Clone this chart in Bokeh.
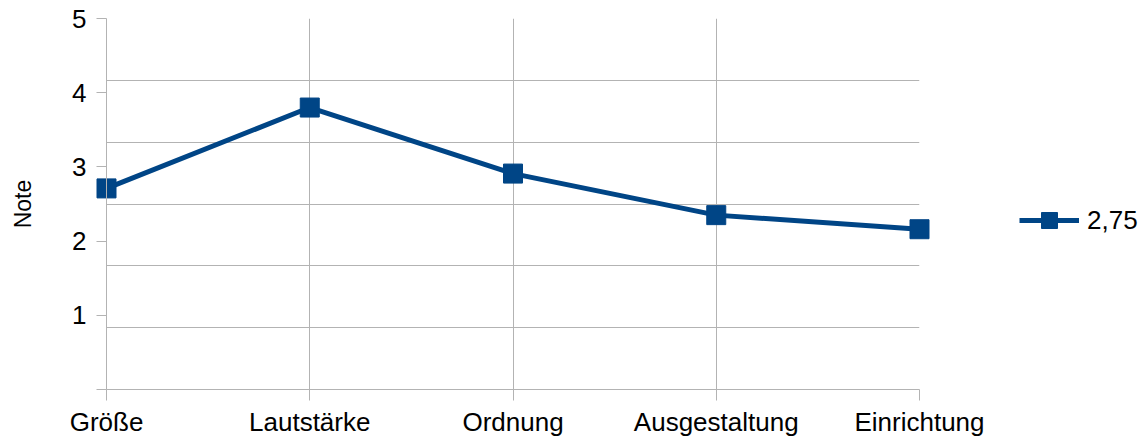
from bokeh.plotting import figure
from bokeh.models import Range1d, FixedTicker, Legend, LegendItem
from bokeh.embed import file_html
from bokeh.resources import INLINE

categories = ["Größe", "Lautstärke", "Ordnung", "Ausgestaltung", "Einrichtung"]
values = [2.71, 3.80, 2.91, 2.35, 2.16]
series_name = "2,75"
y_ticks = [0, 1, 2, 3, 4, 5]
y_title = "Note"

FONT = "Liberation Sans"
GRID = "#b3b3b3"
BLUE = "#004586"

xs = list(range(len(categories)))

p = figure(frame_width=813, frame_height=371,
           min_border_left=106, min_border_top=18, min_border_right=222, min_border_bottom=45,
           x_range=Range1d(xs[0], xs[-1]), y_range=Range1d(0, 5),
           output_backend="svg", toolbar_location=None)
p.outline_line_color = None
p.background_fill_color = "white"

line = p.line(xs, values, line_color=BLUE, line_width=5, level="guide")
pts = p.scatter(xs, values, marker="square", size=19, fill_color=BLUE, line_color=BLUE,
                level="guide")

# x axis
p.xaxis.ticker = FixedTicker(ticks=xs)
p.xaxis.major_label_overrides = {i: c for i, c in enumerate(categories)}
p.xaxis.axis_line_color = GRID
p.xaxis.major_tick_line_color = GRID
p.xaxis.major_tick_out = 11
p.xaxis.major_tick_in = 0
p.xaxis.minor_tick_line_color = None
p.xaxis.major_label_text_font = FONT
p.xaxis.major_label_text_font_size = "26px"
p.xaxis.major_label_text_color = "black"
p.xaxis.major_label_standoff = 6

# y axis
p.yaxis.ticker = FixedTicker(ticks=y_ticks)
p.yaxis.major_label_overrides = {0: ""}
p.yaxis.axis_line_color = GRID
p.yaxis.major_tick_line_color = GRID
p.yaxis.major_tick_out = 10
p.yaxis.major_tick_in = 0
p.yaxis.minor_tick_line_color = None
p.yaxis.major_label_text_font = FONT
p.yaxis.major_label_text_font_size = "26px"
p.yaxis.major_label_text_color = "black"
p.yaxis.major_label_standoff = 10
p.yaxis.axis_label = y_title
p.yaxis.axis_label_text_font = FONT
p.yaxis.axis_label_text_font_size = "23px"
p.yaxis.axis_label_text_font_style = "normal"
p.yaxis.axis_label_text_color = "black"
p.yaxis.axis_label_standoff = 33

# grids
p.xgrid.ticker = FixedTicker(ticks=xs)
p.xgrid.grid_line_color = GRID
p.ygrid.ticker = FixedTicker(ticks=[5 * i / 6 for i in range(7)])
p.ygrid.grid_line_color = GRID

legend = Legend(items=[LegendItem(label=series_name, renderers=[line, pts])],
                location=(100, 149), glyph_width=60, glyph_height=40,
                label_standoff=8, padding=0, margin=0, spacing=0,
                border_line_color=None, background_fill_alpha=0,
                label_text_font=FONT, label_text_font_size="26px",
                label_text_color="black")
p.add_layout(legend, "right")

open("out.html", "w").write(file_html(p, INLINE))
